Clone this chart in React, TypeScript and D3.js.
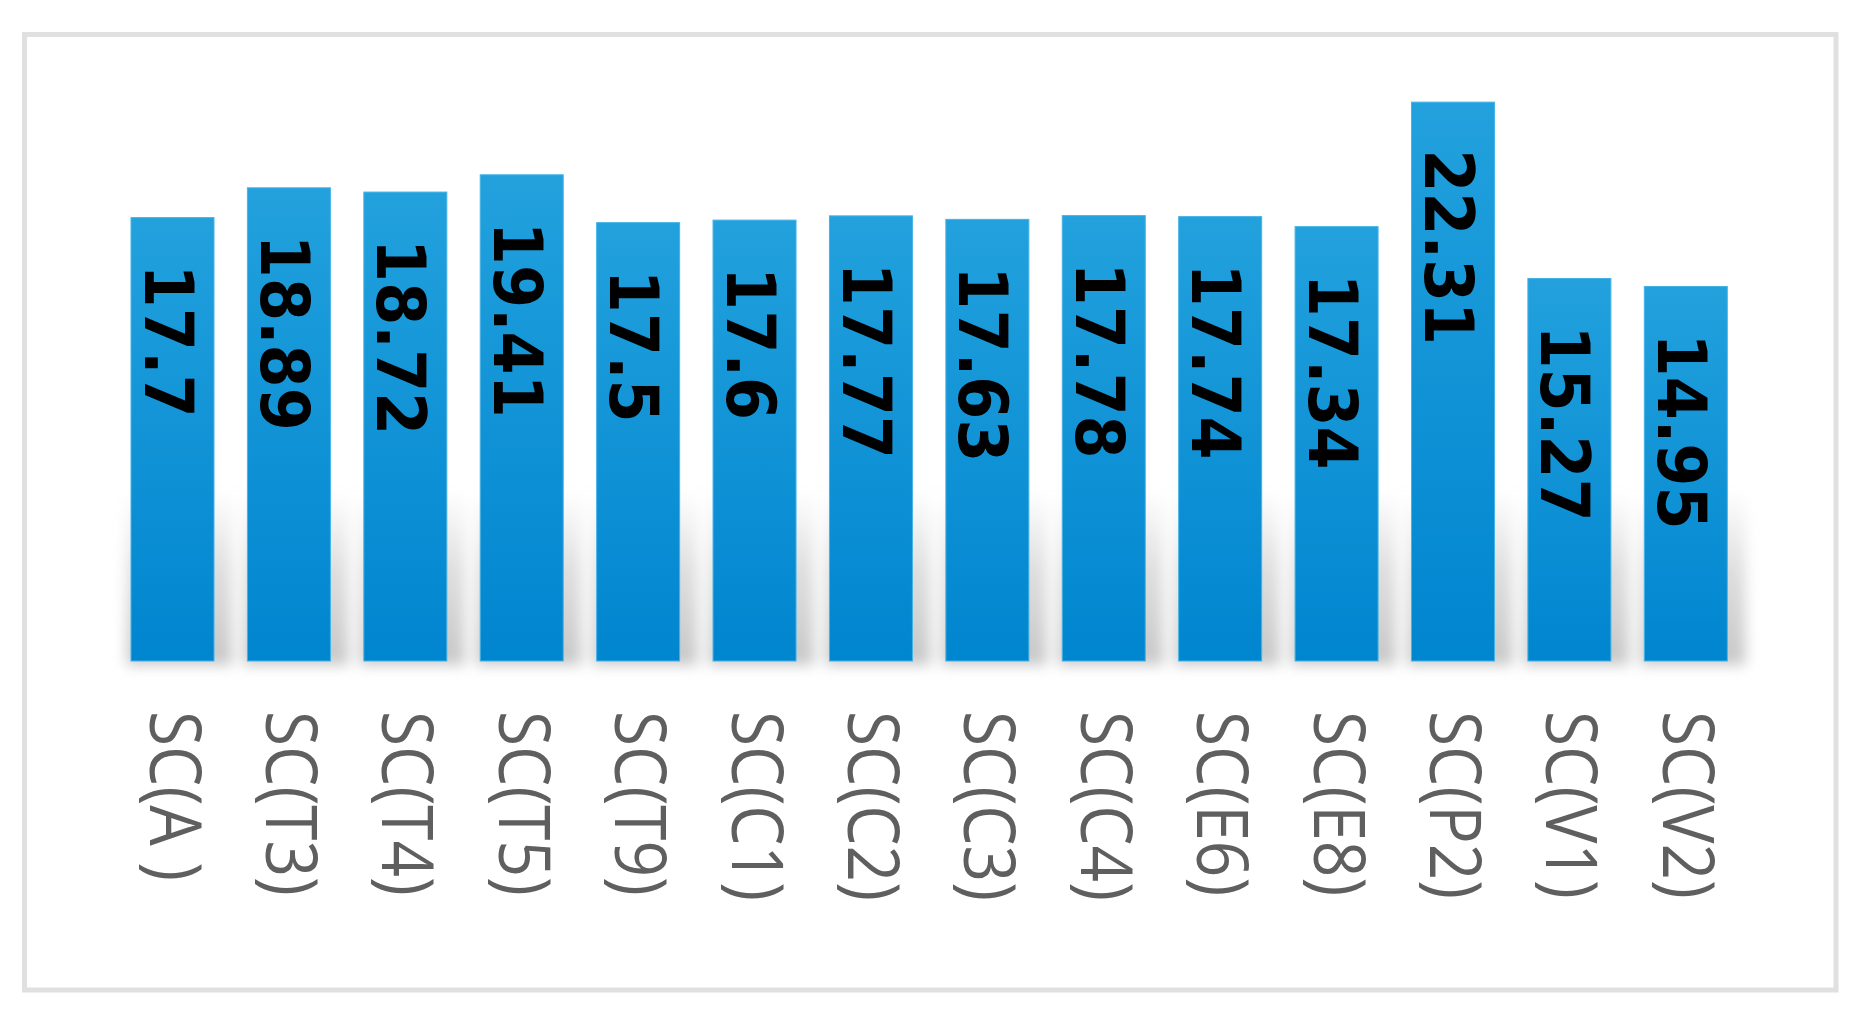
import React from 'react';
import * as d3 from 'd3';

const categories = ['SC(A )', 'SC(T3)', 'SC(T4)', 'SC(T5)', 'SC(T9)', 'SC(C1)', 'SC(C2)',
  'SC(C3)', 'SC(C4)', 'SC(E6)', 'SC(E8)', 'SC(P2)', 'SC(V1)', 'SC(V2)'];
const values = [17.7, 18.89, 18.72, 19.41, 17.5, 17.6, 17.77, 17.63, 17.78, 17.74, 17.34, 22.31, 15.27, 14.95];
const valueLabels = ['17.7', '18.89', '18.72', '19.41', '17.5', '17.6', '17.77', '17.63', '17.78', '17.74',
  '17.34', '22.31', '15.27', '14.95'];

const W = 1864;
const H = 1013;

export default function App() {
  const x = d3.scaleBand<string>()
    .domain(categories)
    .range([114.3, 1744])
    .paddingInner(0.287)
    .paddingOuter(0.1435);

  const y = d3.scaleLinear().domain([0, 24]).range([661, 661 - 24 * 25.05]);
  const base = y(0);
  const bw = x.bandwidth();

  return (
    <svg width={W} height={H} style={{ position: 'absolute', left: 0, top: 0, display: 'block', background: '#fff' }}>
      <defs>
        <linearGradient id="barFill" x1="0" y1="0" x2="0" y2="1">
          <stop offset="0" stopColor="#22a1dd" />
          <stop offset="1" stopColor="#0085cf" />
        </linearGradient>
        <linearGradient id="shadowFill" x1="0" y1="0" x2="0" y2="1">
          <stop offset="0" stopColor="#c4c4c4" stopOpacity="0" />
          <stop offset="0.45" stopColor="#c4c4c4" stopOpacity="0.55" />
          <stop offset="1" stopColor="#bcbcbc" stopOpacity="0.85" />
        </linearGradient>
        <filter id="blur" x="-50%" y="-50%" width="200%" height="200%">
          <feGaussianBlur stdDeviation="7" />
        </filter>
      </defs>
      <rect x={0} y={0} width={W} height={H} fill="#fff" />
      <rect x={24.5} y={34.5} width={1811.5} height={955.5} fill="none" stroke="#e0e0e0" strokeWidth={5} />

      {/* soft shadow behind lower part of the bars */}
      <g filter="url(#blur)">
        {categories.map((c) => (
          <rect key={'s' + c} x={(x(c) as number) - 4} y={base - 170} width={bw + 22} height={174} fill="url(#shadowFill)" />
        ))}
      </g>

      {categories.map((c, i) => (
        <rect key={'b' + c} x={x(c)} y={y(values[i])} width={bw} height={base - y(values[i])}
          fill="url(#barFill)" stroke="#45b3e6" strokeWidth={1} />
      ))}

      {categories.map((c, i) => {
        const cx = (x(c) as number) + bw / 2;
        return (
          <text key={'v' + c} transform={`translate(${cx - 28},${y(values[i]) + 47}) rotate(90) scale(1,1.08)`}
            fontFamily="'DejaVu Sans', Verdana, sans-serif" fontWeight="bold" fontSize={62} fill="#000">
            {valueLabels[i]}
          </text>
        );
      })}

      {categories.map((c) => {
        const cx = (x(c) as number) + bw / 2;
        return (
          <text key={'l' + c} transform={`translate(${cx - 23},${711}) rotate(90) scale(1,1.1)`}
            fontFamily="'Open Sans', sans-serif" fontSize={64} fill="#5f5f5f">
            {c}
          </text>
        );
      })}
    </svg>
  );
}
